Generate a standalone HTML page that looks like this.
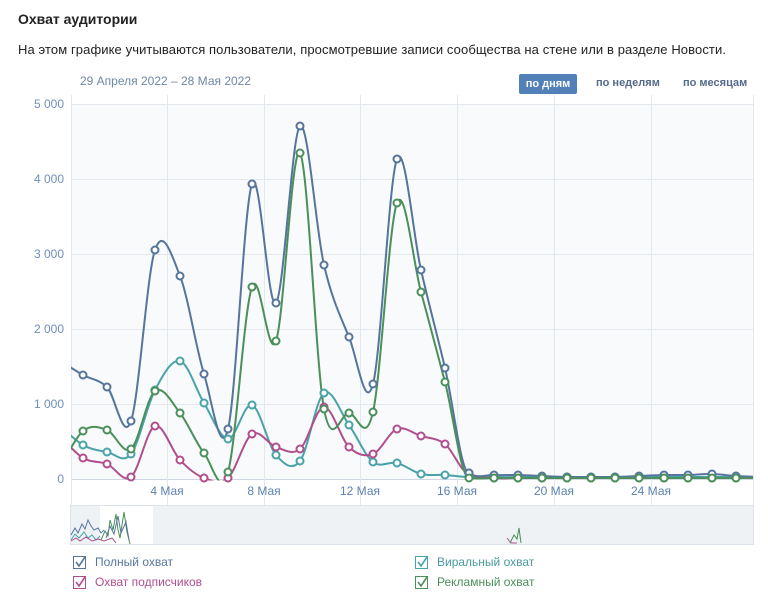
<!DOCTYPE html>
<html><head><meta charset="utf-8"><style>
body{margin:0;width:768px;height:602px;background:#fff;font-family:"Liberation Sans",sans-serif;position:relative;overflow:hidden}
.t{position:absolute;white-space:nowrap}
</style></head><body>
<div class="t" style="left:18px;top:11px;font-size:14px;font-weight:bold;color:#222">Охват аудитории</div>
<div class="t" style="left:18px;top:42px;font-size:13px;color:#222;letter-spacing:0.1px">На этом графике учитываются пользователи, просмотревшие записи сообщества на стене или в разделе Новости.</div>
<div class="t" style="left:80px;top:74px;font-size:12px;color:#6f87a8">29 Апреля 2022 – 28 Мая 2022</div>
<div class="t" style="left:519px;top:74px;width:58px;height:20px;background:#5181b8;border-radius:2px;color:#fff;font-size:11px;font-weight:bold;text-align:center;line-height:20px">по дням</div>
<div class="t" style="left:596px;top:77px;font-size:11px;font-weight:bold;color:#55698a">по неделям</div>
<div class="t" style="left:683px;top:77px;font-size:11px;font-weight:bold;color:#55698a">по месяцам</div>
<svg width="768" height="602" style="position:absolute;left:0;top:0" id="s">
<defs><clipPath id="c"><rect x="71" y="95" width="682" height="385.5"/></clipPath>
<clipPath id="c2"><rect x="71" y="95" width="682" height="395"/></clipPath></defs>
<rect x="71" y="104" width="682" height="375" fill="#f8fafc"/>
<g stroke="#e3e8ee" stroke-width="1" id="grid"></g>
<g font-size="12" fill="#6f8fb8" text-anchor="end" id="yl"></g>
<g font-size="12" fill="#5b82b0" text-anchor="middle">
<text x="167" y="495">4 Мая</text><text x="264" y="495">8 Мая</text><text x="360" y="495">12 Мая</text><text x="457" y="495">16 Мая</text><text x="554" y="495">20 Мая</text><text x="651" y="495">24 Мая</text></g>
<rect x="70.5" y="505.5" width="683" height="39" fill="#eef2f5" stroke="#dde3ea"/>
<rect x="100" y="506" width="53" height="38" fill="#fff"/>
<g fill="none" stroke-width="1">
<polyline stroke="#56759c" points="71,535 75,528 78,533 82,524 85,529 88,520 91,526 94,530 98,528 101,533 104,530"/>
<polyline stroke="#4aa3a9" points="71,540 75,534 79,538 84,532 88,538 92,535 96,540 100,536"/>
<polyline stroke="#b04f8c" points="71,541 76,538 80,541 86,537 92,541 98,539 104,541 112,538 116,543"/>
<polyline stroke="#4b8f5a" points="101,540 105,531 108,536 110,520 113,530 116,514 118,530 120,538 124,512 127,532 130,544"/>
<polyline stroke="#56759c" points="106,538 110,526 114,534 118,516 121,533 126,522 129,540"/>
<polyline stroke="#b04f8c" points="507,538 511,543 517,543"/>
<polyline stroke="#4b8f5a" points="510,543 514,535 517,539 519,528 521,543"/>
</g>
<g id="series"></g>
<g font-size="12">
<rect x="73.5" y="556.5" width="12" height="12" fill="#fff" stroke="#56759c"/><path d="M76 562l3 4 6-9" stroke="#56759c" stroke-width="1.6" fill="none"/>
<text x="95" y="566" fill="#56759c">Полный охват</text>
<rect x="73.5" y="576.5" width="12" height="12" fill="#fff" stroke="#b04f8c"/><path d="M76 582l3 4 6-9" stroke="#b04f8c" stroke-width="1.6" fill="none"/>
<text x="95" y="586" fill="#b04f8c">Охват подписчиков</text>
<rect x="415.5" y="556.5" width="12" height="12" fill="#fff" stroke="#4aa3a9"/><path d="M418 562l3 4 6-9" stroke="#4aa3a9" stroke-width="1.6" fill="none"/>
<text x="437" y="566" fill="#4a9aa0">Виральный охват</text>
<rect x="415.5" y="576.5" width="12" height="12" fill="#fff" stroke="#4b8f5a"/><path d="M418 582l3 4 6-9" stroke="#4b8f5a" stroke-width="1.6" fill="none"/>
<text x="437" y="586" fill="#4b8f5a">Рекламный охват</text>
</g>
</svg>
<script>
var NS="http://www.w3.org/2000/svg";
function el(p,n,a){var e=document.createElementNS(NS,n);for(var k in a)e.setAttribute(k,a[k]);p.appendChild(e);return e;}
var g=document.getElementById('grid');
[104,179,254,329,404].forEach(function(y){el(g,'line',{x1:71,x2:753,y1:y+.5,y2:y+.5});});
el(g,'line',{x1:71,x2:753,y1:479.5,y2:479.5,stroke:'#cfd7e0'});
[71,167,264,360,457,554,651,753].forEach(function(x){el(g,'line',{x1:x+.5,x2:x+.5,y1:95,y2:505});});
el(g,'line',{x1:71,x2:753,y1:505.5,y2:505.5});
var yl=document.getElementById('yl');
[['5 000',104],['4 000',179],['3 000',254],['2 000',329],['1 000',404],['0',479]].forEach(function(a){var t=el(yl,'text',{x:64,y:a[1]+4});t.textContent=a[0];});
var X=[59,83,107,131,155,180,204,228,252,276,300,324,349,373,397,421,445,469,494,518,542,567,591,615,639,664,688,712,736,760];
var S=[
['#4aa3a9',[425,445,452,454,390,361,403,439,405,455,461,393,425,462,463,474,475,477,476,476,477,477,477,477,477,477,477,477,477,477]],
['#b04f8c',[435,458,464,477,426,460,478,478,434,447,449,407,447,454,429,436,444,473,478,478,478,478,478,478,478,478,478,478,478,478]],
['#56759c',[360,375,387,421,250,276,374,429,184,303,126,265,337,384,159,270,368,473,475,475,476,477,477,477,476,475,475,474,476,477]],
['#4b8f5a',[470,431,430,449,391,413,453,472,287,341,153,409,413,412,203,292,382,478,478,478,478,478,478,478,478,478,478,478,478,478]]];
var sg=document.getElementById('series');
var lg=el(sg,'g',{'clip-path':'url(#c)'}),pg=el(sg,'g',{'clip-path':'url(#c2)'});
S.forEach(function(s){var c=s[0],Y=s[1],n=X.length,d='M'+X[0]+' '+Y[0];
for(var i=0;i<n-1;i++){var p0=i?i-1:i,p3=i+2<n?i+2:i+1;
var c1x=X[i]+(X[i+1]-X[p0])/6,c1y=Y[i]+(Y[i+1]-Y[p0])/6,c2x=X[i+1]-(X[p3]-X[i])/6,c2y=Y[i+1]-(Y[p3]-Y[i])/6;
if(i>=16){c1y=Math.min(c1y,479);c2y=Math.min(c2y,479);if(i==16)c2y=Y[i+1];}
d+=' C'+c1x+' '+c1y+' '+c2x+' '+c2y+' '+X[i+1]+' '+Y[i+1];}
el(lg,'path',{d:d,fill:'none',stroke:c,'stroke-width':2});
for(var i=1;i<n-1;i++)el(pg,'circle',{cx:X[i],cy:Y[i],r:3.5,fill:'#fff',stroke:c,'stroke-width':2});});
</script>
</body></html>
